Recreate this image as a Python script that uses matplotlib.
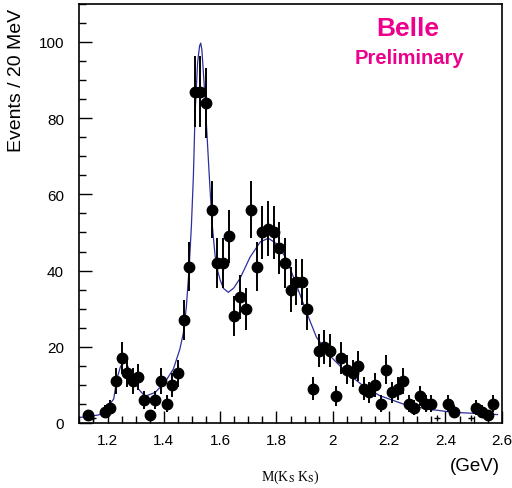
import numpy as np
import matplotlib
matplotlib.use("Agg")
import matplotlib.pyplot as plt
from matplotlib.ticker import MultipleLocator

plt.rcParams['font.family'] = ['Liberation Sans', 'DejaVu Sans']
plt.rcParams['mathtext.fontset'] = 'stix'

# K_S K_S invariant mass, bin centres (GeV) and events per 20 MeV bin
mass = [1.13, 1.19, 1.21, 1.23, 1.25, 1.27, 1.29, 1.31, 1.33, 1.35,
        1.37, 1.39, 1.41, 1.43, 1.45, 1.47, 1.49, 1.51, 1.53, 1.55,
        1.57, 1.59, 1.61, 1.63, 1.65, 1.67, 1.69, 1.71, 1.73, 1.75,
        1.77, 1.79, 1.81, 1.83, 1.85, 1.87, 1.89, 1.91, 1.93, 1.95,
        1.97, 1.99, 2.01, 2.03, 2.05, 2.07, 2.09, 2.11, 2.13, 2.15,
        2.17, 2.19, 2.21, 2.23, 2.25, 2.27, 2.29, 2.31, 2.33, 2.35,
        2.41, 2.43, 2.51, 2.53, 2.55, 2.57]
events = [2, 3, 4, 11, 17, 13, 11, 12, 6, 2,
          6, 11, 5, 10, 13, 27, 41, 87, 87, 84,
          56, 42, 42, 49, 28, 33, 30, 56, 41, 50,
          51, 50, 46, 42, 35, 37, 37, 30, 9, 19,
          20, 19, 7, 17, 14, 13, 15, 9, 8, 10,
          5, 14, 8, 9, 11, 5, 4, 7, 5, 5,
          5, 3, 4, 3, 2, 5]

# nearly empty bins drawn as small crosses
low_mass = [1.15, 2.37, 2.49]
low_events = [1.2, 1.2, 1.2]

# fit curve
fit_m = [1.103, 1.109, 1.168, 1.187, 1.204, 1.222, 1.233, 1.246, 1.263, 1.274,
         1.286, 1.310, 1.333, 1.369, 1.404, 1.434, 1.457, 1.469, 1.480, 1.490,
         1.498, 1.505, 1.511, 1.520, 1.527, 1.531, 1.535, 1.544, 1.553, 1.562,
         1.571, 1.582, 1.591, 1.600, 1.612, 1.629, 1.648, 1.671, 1.706, 1.742,
         1.771, 1.801, 1.836, 1.872, 1.907, 1.942, 1.989, 2.048, 2.107, 2.166,
         2.249, 2.332, 2.426, 2.509, 2.585]
fit_y = [1.5, 1.5, 2.1, 2.8, 4.5, 6.3, 11.5, 14.8, 16.4, 14.5,
         12.4, 8.9, 7.0, 8.0, 10.7, 14.2, 19.4, 23.5, 30.5, 40.9,
         52.0, 64.9, 81.5, 94.7, 99.0, 99.7, 98.0, 88.0, 76.0, 64.0,
         52.7, 43.9, 40.0, 37.5, 35.3, 34.3, 35.4, 38.0, 43.5, 47.5,
         48.5, 47.0, 43.0, 36.0, 29.0, 22.5, 17.7, 13.3, 9.8, 7.2,
         5.0, 3.7, 2.8, 2.5, 2.2]

fig = plt.figure(figsize=(5.12, 4.89), dpi=100)
ax = fig.add_axes([0.155, 0.133, 0.825, 0.857])

ax.plot(fit_m, fit_y, color='#2e2e9e', lw=0.9, zorder=2)
ax.errorbar(mass, events, yerr=np.sqrt(events), fmt='o', color='black',
            ms=7.5, elinewidth=1.4, capsize=0, zorder=3)
ax.plot(low_mass, low_events, '+', color='black', ms=5, mew=1.0)

ax.set_xlim(1.1, 2.6)
ax.set_ylim(0, 110)
ax.xaxis.set_major_locator(MultipleLocator(0.2))
ax.xaxis.set_minor_locator(MultipleLocator(0.05))
ax.yaxis.set_major_locator(MultipleLocator(20))
ax.yaxis.set_minor_locator(MultipleLocator(5))
ax.xaxis.set_major_formatter(plt.FuncFormatter(lambda v, p: f'{v:g}'))
ax.tick_params(which='both', direction='in', top=False, right=False)
ax.tick_params(which='major', length=9, width=1.0)
ax.tick_params(which='minor', length=5, width=1.0)
ax.tick_params(axis='y', which='major', pad=11, labelsize=11)
ax.tick_params(axis='x', which='major', pad=7, labelsize=11)
for s in ax.spines.values():
    s.set_linewidth(1.2)

fig.text(17/512, 1 - 80/489, 'Events / 20 MeV', rotation=90,
         ha='center', va='center', fontsize=14)
fig.text(500/512, 1 - 467/489, '(GeV)', ha='right', va='center', fontsize=13.5)
fig.text(290/512, 1 - 477/489, r'M(K$_\mathrm{S}$ K$_\mathrm{S}$)',
         ha='center', va='center', fontsize=10, family='Liberation Serif')

ax.text(408/512, 1 - 29/489, 'Belle', transform=fig.transFigure,
        ha='center', va='center', fontsize=19, fontweight='bold', color='#ec008c')
ax.text(409/512, 1 - 59/489, 'Preliminary', transform=fig.transFigure,
        ha='center', va='center', fontsize=14.5, fontweight='bold', color='#ec008c')

fig.savefig('out.png', dpi=100)
